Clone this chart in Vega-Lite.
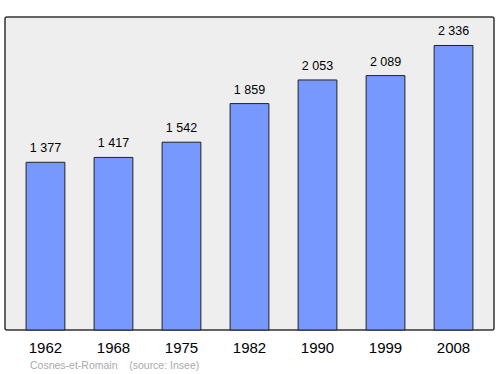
{
  "$schema": "https://vega.github.io/schema/vega-lite/v6.json",
  "autosize": "none",
  "width": 489,
  "height": 313,
  "padding": {"left": 5, "top": 17, "right": 6, "bottom": 44},
  "background": "#ffffff",
  "config": {
    "font": "Liberation Sans",
    "locale": {"number": {"decimal": ",", "thousands": " ", "grouping": [3], "currency": ["", " €"]}},
    "view": {"fill": "#eeeeee", "stroke": "#333333", "strokeWidth": 1.5, "cornerRadius": 2}
  },
  "title": {
    "text": "Cosnes-et-Romain \u00a0\u00a0\u00a0(source: Insee)",
    "orient": "bottom",
    "anchor": "start",
    "dx": 25,
    "offset": 6,
    "fontSize": 10.5,
    "fontWeight": "normal",
    "color": "#aaaaaa",
    "font": "Liberation Sans"
  },
  "data": {
    "values": [
      {"year": "1962", "pop": 1377},
      {"year": "1968", "pop": 1417},
      {"year": "1975", "pop": 1542},
      {"year": "1982", "pop": 1859},
      {"year": "1990", "pop": 2053},
      {"year": "1999", "pop": 2089},
      {"year": "2008", "pop": 2336}
    ]
  },
  "encoding": {
    "x": {
      "field": "year",
      "type": "nominal",
      "scale": {"paddingInner": 0.43, "paddingOuter": 0.31},
      "axis": {"title": null, "labelAngle": 0, "ticks": false, "domain": false, "labelFontSize": 15, "labelColor": "#000000", "labelPadding": 10, "labelFont": "Liberation Sans"}
    },
    "y": {
      "field": "pop",
      "type": "quantitative",
      "scale": {"domain": [0, 2570], "nice": false},
      "axis": null
    }
  },
  "layer": [
    {
      "mark": {"type": "bar", "fill": "#7799ff", "stroke": "#222222", "strokeWidth": 1}
    },
    {
      "mark": {"type": "text", "baseline": "alphabetic", "dy": -10, "fontSize": 12.5, "color": "#000000"},
      "encoding": {"text": {"field": "pop", "type": "quantitative", "format": ",d"}}
    }
  ]
}
